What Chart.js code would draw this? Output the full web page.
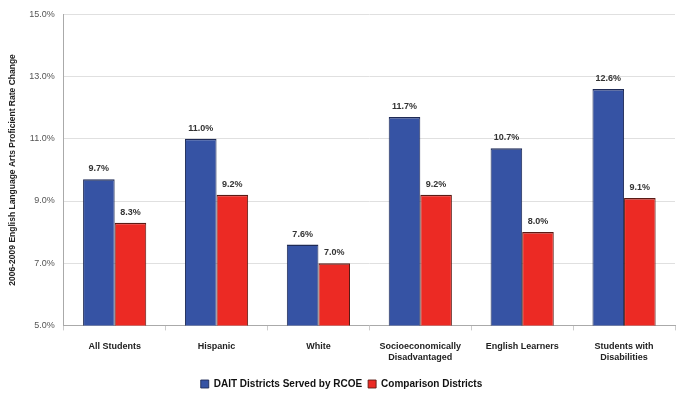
<!DOCTYPE html>
<html>
<head>
<meta charset="utf-8">
<script src="https://cdn.jsdelivr.net/npm/chart.js@4"></script>
<style>
  html, body { margin: 0; padding: 0; background: #fff; }
  #wrap { width: 680px; height: 394px; position: relative; }
</style>
</head>
<body>
<div id="wrap"><canvas id="chart" width="680" height="394"></canvas></div>
<script>
// Chart data
const categories = [
    'All Students',
    'Hispanic',
    'White',
    ['Socioeconomically', 'Disadvantaged'],
    'English Learners',
    ['Students with', 'Disabilities']
];
const daitValues = [9.7, 11.0, 7.6, 11.7, 10.7, 12.6];
const comparisonValues = [8.3, 9.2, 7.0, 9.2, 8.0, 9.1];
const seriesNames = ['DAIT Districts Served by RCOE', 'Comparison Districts'];

const FONT = 'Arial, "Liberation Sans", sans-serif';

/**
 * Draw value labels above each bar
 */
const valueLabels = {
    id: 'valueLabels',
    afterDatasetsDraw(chart) {
        const ctx = chart.ctx;
        ctx.save();
        ctx.font = 'bold 9px ' + FONT;
        ctx.fillStyle = '#333';
        ctx.textAlign = 'center';
        ctx.textBaseline = 'bottom';
        chart.data.datasets.forEach((ds, i) => {
            chart.getDatasetMeta(i).data.forEach((bar, j) => {
                ctx.fillText(ds.data[j].toFixed(1) + '%', bar.x, bar.y - 6);
            });
        });
        ctx.restore();
    }
};

new Chart(document.getElementById('chart').getContext('2d'), {
    type: 'bar',
    data: {
        labels: categories,
        datasets: [
            {
                label: seriesNames[0],
                data: daitValues,
                backgroundColor: '#3653a4',
                borderColor: '#1e2a55',
                borderWidth: { top: 1.5, left: 1, right: 1, bottom: 0 },
                borderSkipped: false
            },
            {
                label: seriesNames[1],
                data: comparisonValues,
                backgroundColor: '#ec2a24',
                borderColor: '#5a1a14',
                borderWidth: { top: 1.5, left: 1, right: 1, bottom: 0 },
                borderSkipped: false
            }
        ]
    },
    options: {
        responsive: false,
        animation: false,
        layout: { padding: { top: 7, right: 5, left: 8, bottom: -5 } },
        datasets: { bar: { categoryPercentage: 0.62, barPercentage: 1.0 } },
        scales: {
            x: {
                grid: { display: true, drawOnChartArea: false, drawTicks: true, tickLength: 5, color: '#ccc', offset: true },
                border: { color: '#aaa' },
                ticks: { color: '#222', font: { family: FONT, size: 9, weight: 'bold' }, maxRotation: 0, padding: 10.5 }
            },
            y: {
                min: 5,
                max: 15,
                grid: { color: '#e0e0e0', drawTicks: false },
                border: { color: '#aaa' },
                ticks: {
                    stepSize: 2,
                    color: '#555',
                    padding: 9,
                    font: { family: FONT, size: 9 },
                    callback: v => v.toFixed(1) + '%'
                },
                title: {
                    display: true,
                    text: '2006-2009 English Language Arts Proficient Rate Change',
                    color: '#222',
                    font: { family: FONT, size: 8.5, weight: 'bold' },
                    padding: { top: 0, bottom: 2 }
                }
            }
        },
        plugins: {
            legend: {
                position: 'bottom',
                labels: {
                    color: '#111',
                    font: { family: FONT, size: 10, weight: 'bold' },
                    boxWidth: 8,
                    boxHeight: 8,
                    padding: 6,
                    useBorderRadius: false
                }
            },
            tooltip: { enabled: false }
        }
    },
    plugins: [valueLabels]
});
</script>
</body>
</html>
